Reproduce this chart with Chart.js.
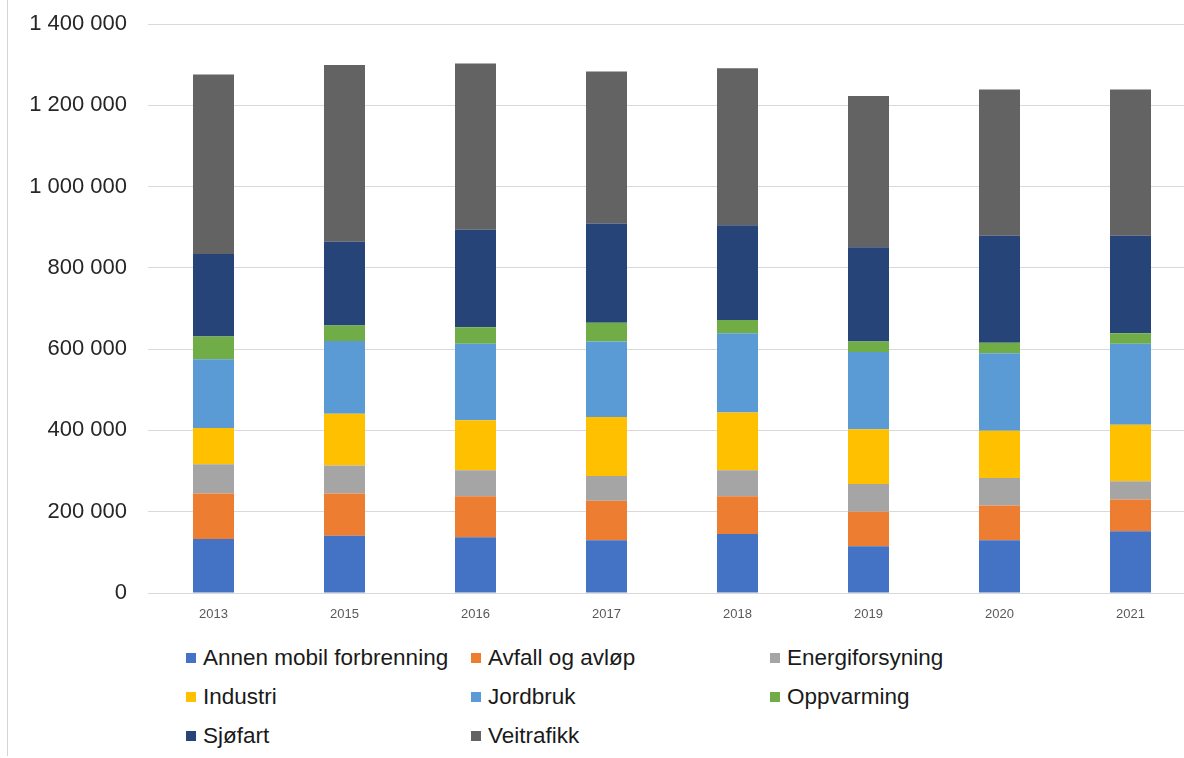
<!DOCTYPE html>
<html lang="no">

<head>
    <meta charset="UTF-8">
    <title>Utslipp per sektor</title>
    <style>
        html, body {
            margin: 0;
            padding: 0;
            background: #ffffff;
            overflow: hidden;
            width: 1184px;
            height: 758px;
        }

        .kant {
            position: absolute;
            left: 7px;
            top: 0;
            width: 1px;
            height: 756px;
            background: #d4d4d4;
        }

        .graf {
            position: absolute;
            left: 0;
            top: 0;
        }

        #forklaring {
            position: absolute;
            left: 186px;
            top: 644px;
            display: grid;
            grid-template-columns: 285px 299px 300px;
            grid-auto-rows: 39px;
            font-family: "Liberation Sans", Arial, sans-serif;
            font-size: 22.5px;
            color: #1a1a1a;
        }

        .post {
            display: flex;
            align-items: center;
            height: 28px;
            white-space: nowrap;
        }

        .boks {
            width: 10px;
            height: 10px;
            margin-right: 7px;
            flex: none;
        }
    </style>
</head>

<body>
    <div class="kant"></div>
    <canvas class="graf" id="grafico" width="1200" height="640"></canvas>
    <div id="forklaring"></div>

    <script src="https://cdn.jsdelivr.net/npm/chart.js"></script>
    <script>
        // år og utslipp per sektor (tonn CO2-ekv.), lest av figuren
        const aar = ['2013', '2015', '2016', '2017', '2018', '2019', '2020', '2021']

        const annenMobil = [133000, 141000, 137000, 130000, 145000, 115000, 130000, 152000]
        const avfall = [112000, 104000, 101000, 97000, 93000, 85000, 85000, 78000]
        const energi = [72000, 69000, 64000, 61000, 64000, 68000, 68000, 45000]
        const industri = [89000, 127000, 123000, 145000, 142000, 135000, 116000, 139000]
        const jordbruk = [169000, 179000, 188000, 186000, 195000, 190000, 191000, 199000]
        const oppvarming = [56000, 38000, 41000, 46000, 33000, 26000, 26000, 26000]
        const sjofart = [203000, 206000, 240000, 244000, 233000, 232000, 263000, 240000]
        const veitrafikk = [442000, 435000, 409000, 374000, 386000, 372000, 360000, 360000]

        const yTicks = [0, 200000, 400000, 600000, 800000, 1000000, 1200000, 1400000]

        function serie(navn, data, farge) {
            return {
                label: navn,
                data: data,
                backgroundColor: farge,
                borderWidth: 0,
                categoryPercentage: 1,
                barPercentage: 0.313
            }
        }

        function tall(v) {
            return String(v).replace(/\B(?=(\d{3})+(?!\d))/g, ' ')
        }

        const dados = {
            labels: aar,
            datasets: [
                serie('Annen mobil forbrenning', annenMobil, '#4472C4'),
                serie('Avfall og avløp', avfall, '#ED7D31'),
                serie('Energiforsyning', energi, '#A5A5A5'),
                serie('Industri', industri, '#FFC000'),
                serie('Jordbruk', jordbruk, '#5B9BD5'),
                serie('Oppvarming', oppvarming, '#70AD47'),
                serie('Sjøfart', sjofart, '#264478'),
                serie('Veitrafikk', veitrafikk, '#636363')
            ]
        }

        const config = {
            type: 'bar',
            data: dados,
            options: {
                responsive: false,
                animation: false,
                layout: {
                    padding: { left: 0, right: 4, top: 24, bottom: 0 }
                },
                plugins: {
                    legend: { display: false },
                    tooltip: { enabled: false }
                },
                scales: {
                    x: {
                        stacked: true,
                        grid: { display: false },
                        border: { display: false },
                        ticks: {
                            color: '#595959',
                            padding: 6,
                            font: { family: 'Liberation Sans', size: 13 }
                        },
                        afterFit: function (scale) {
                            scale.height = 47
                        }
                    },
                    y: {
                        stacked: true,
                        min: 0,
                        max: 1400000,
                        afterBuildTicks: function (scale) {
                            scale.ticks = yTicks.map(function (v) { return { value: v } })
                        },
                        grid: {
                            color: '#d9d9d9',
                            lineWidth: 1,
                            drawTicks: false
                        },
                        border: { display: false },
                        ticks: {
                            color: '#262626',
                            padding: 21,
                            font: { family: 'Liberation Sans', size: 22 },
                            callback: function (v) { return tall(v) }
                        },
                        afterFit: function (scale) {
                            scale.width = 148
                            scale.paddingTop = 0
                            scale.paddingBottom = 0
                        }
                    }
                }
            }
        }

        let myChart = new Chart(document.getElementById('grafico'), config)

        // forklaring i tre kolonner, laget fra datasettene
        const forklaring = document.getElementById('forklaring')
        myChart.data.datasets.forEach(function (ds) {
            const post = document.createElement('div')
            post.className = 'post'
            const boks = document.createElement('span')
            boks.className = 'boks'
            boks.style.background = ds.backgroundColor
            const tekst = document.createElement('span')
            tekst.textContent = ds.label
            post.appendChild(boks)
            post.appendChild(tekst)
            forklaring.appendChild(post)
        })
    </script>
</body>

</html>
